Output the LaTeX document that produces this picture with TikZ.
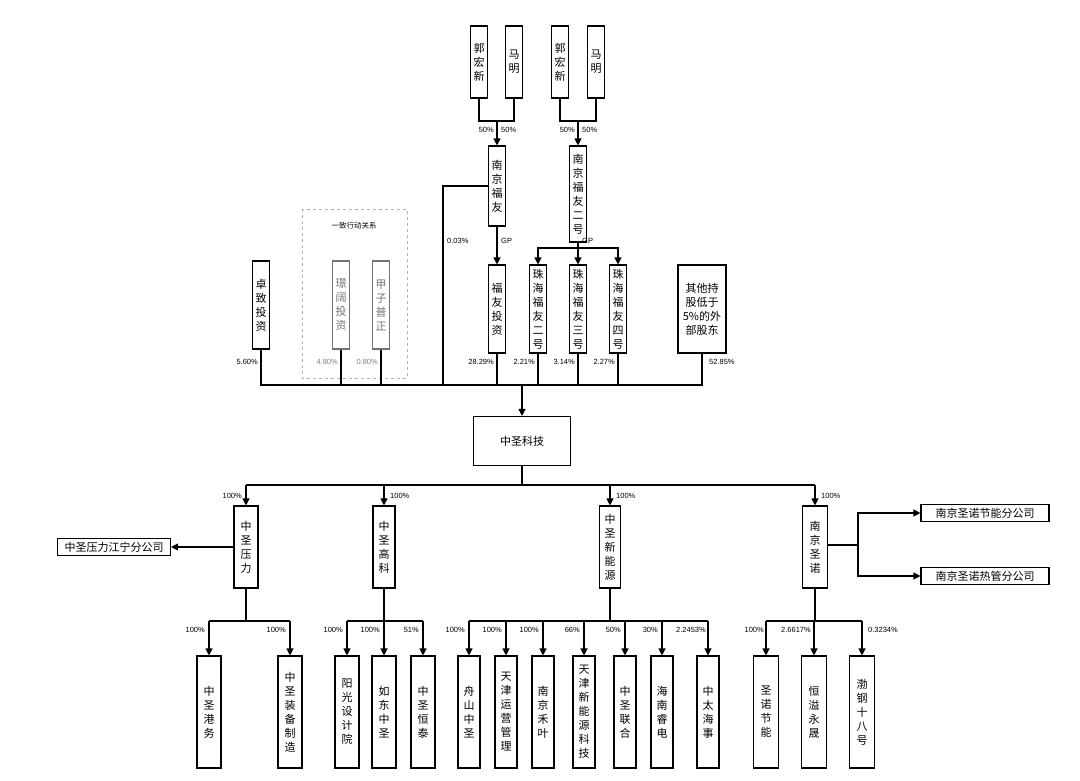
\documentclass[tikz,border=0pt]{standalone}
\usepackage{fontspec}
\setmainfont{Liberation Sans}
\newfontfamily\cjk{Noto Sans CJK SC}
\usetikzlibrary{arrows.meta}
\begin{document}
\begin{tikzpicture}[x=1pt,y=-1pt,
  box/.style={draw,line width=1.1pt,inner sep=0pt,align=center,font=\cjk\fontsize{11}{14}\selectfont},
  vb/.style={box,minimum width=17pt},
  gbox/.style={box,draw=black!55,text=black!55},
  hb/.style={box,minimum height=17pt,inner xsep=2pt},
  ln/.style={line width=1.1pt},
  arr/.style={line width=1.1pt,-{Triangle[width=7pt,length=7pt]}},
  pl/.style={font=\fontsize{7.5}{8}\selectfont,inner sep=1pt},
  gl/.style={pl,text=black!50}]
\useasboundingbox (0,0) rectangle (1080,780);
% top owners
\node[vb,minimum height=72] (gh1) at (479,62) {郭\\宏\\新};
\node[vb,minimum height=72] (mm1) at (514,62) {马\\明};
\node[vb,minimum height=72] (gh2) at (560,62) {郭\\宏\\新};
\node[vb,minimum height=72] (mm2) at (596,62) {马\\明};
\node[vb,minimum height=80] (nf) at (497,186) {南\\京\\福\\友};
\node[vb,minimum height=96] (nf2) at (578,194) {南\\京\\福\\友\\二\\号};
\coordinate (j1) at (497,121);
\coordinate (j2) at (578,121);
\draw[ln] (gh1.south) -- (gh1.south|-j1) -- (mm1.south|-j1) -- (mm1.south);
\draw[ln] (gh2.south) -- (gh2.south|-j2) -- (mm2.south|-j2) -- (mm2.south);
\draw[arr] (j1) -- (nf.north);
\draw[arr] (j2) -- (nf2.north);
\node[pl,anchor=east] (p1) at (495,130) {50\%};
\node[pl,anchor=west] (p2) at (500,130) {50\%};
\node[pl,anchor=east] (p3) at (576,130) {50\%};
\node[pl,anchor=west] (p4) at (581,130) {50\%};
% dashed group
\draw[dashed,draw=black!30,line width=0.9pt] (302,209) rectangle (407,378);
\node[font=\cjk\fontsize{7.5}{8}\selectfont] (gt) at (354,226) {一致行动关系};
% shareholders
\node[vb,minimum height=88] (fy) at (497,309) {福\\友\\投\\资};
\node[vb,minimum height=88] (zh2) at (538,309) {珠\\海\\福\\友\\二\\号};
\node[vb,minimum height=88] (zh3) at (578,309) {珠\\海\\福\\友\\三\\号};
\node[vb,minimum height=88] (zh4) at (618,309) {珠\\海\\福\\友\\四\\号};
\node[vb,minimum height=88] (zz) at (261,305) {卓\\致\\投\\资};
\node[vb,gbox,minimum height=88] (jk) at (341,305) {璟\\阔\\投\\资};
\node[vb,gbox,minimum height=88] (jz) at (381,305) {甲\\子\\普\\正};
\node[box,minimum width=48,minimum height=88] (qt) at (702,309) {其他持\\股低于\\5\%的外\\部股东};
\draw[arr] (nf.south) -- (fy.north);
\node[pl,anchor=west] (gp1) at (500,241) {GP};
\node[pl,anchor=west] (gp2) at (581,241) {GP};
\coordinate (b2) at (578,248);
\draw[ln] (nf2.south) -- (b2);
\draw[arr] (b2) -| (zh2.north);
\draw[arr] (b2) -| (zh4.north);
\draw[arr] (b2) -- (zh3.north);
\coordinate (bus) at (522,385);
\coordinate (bl) at (443,385);
\draw[ln] (zz.south) -- (zz.south|-bus) -- (qt.south|-bus) -- (qt.south);
\foreach \n in {jk,jz,fy,zh2,zh3,zh4} \draw[ln] (\n.south) -- (\n.south|-bus);
\draw[ln] (nf.west) -| (bl);
\node[pl,anchor=west] (p003) at (446,241) {0.03\%};
\node[pl,anchor=east] at (259,362) {5.60\%};
\node[gl,anchor=east] at (339,362) {4.80\%};
\node[gl,anchor=east] at (379,362) {0.80\%};
\node[pl,anchor=east] at (495,362) {28.29\%};
\node[pl,anchor=east] at (536,362) {2.21\%};
\node[pl,anchor=east] at (576,362) {3.14\%};
\node[pl,anchor=east] at (616,362) {2.27\%};
\node[pl,anchor=west] at (708,362) {52.85\%};
% main
\node[box,minimum width=97,minimum height=49] (main) at (522,441) {中圣科技};
\draw[arr] (bus) -- (main.north);
% level 2
\node[vb,minimum width=24,minimum height=82] (yl) at (246,547) {中\\圣\\压\\力};
\node[vb,minimum width=22,minimum height=82] (gk) at (384,547) {中\\圣\\高\\科};
\node[vb,minimum width=21,minimum height=82] (xny) at (610,547) {中\\圣\\新\\能\\源};
\node[vb,minimum width=25,minimum height=82] (sn) at (815,547) {南\\京\\圣\\诺};
\coordinate (b3) at (522,485);
\draw[ln] (main.south) -- (b3);
\draw[ln] (yl.north|-b3) -- (sn.north|-b3);
\foreach \n in {yl,gk,xny,sn} \draw[arr] (\n.north|-b3) -- (\n.north);
\node[pl,anchor=east] at (243,496) {100\%};
\node[pl,anchor=west] at (389,496) {100\%};
\node[pl,anchor=west] at (615,496) {100\%};
\node[pl,anchor=west] at (820,496) {100\%};
\node[hb,minimum width=113] (jn) at (114,547) {中圣压力江宁分公司};
\node[hb,minimum width=128] (jnn) at (985,513) {南京圣诺节能分公司};
\node[hb,minimum width=128] (rg) at (985,576) {南京圣诺热管分公司};
\draw[arr] (yl.west) -- (jn.east);
\coordinate (sb) at (858,545);
\draw[ln] (sn.east|-sb) -- (sb);
\draw[arr] (sb) |- (jnn.west);
\draw[arr] (sb) |- (rg.west);
% level 3
\tikzset{cb/.style={vb,minimum height=112}}
\node[cb,minimum width=24] (gw) at (209,712) {中\\圣\\港\\务};
\node[cb,minimum width=24] (zb) at (290,712) {中\\圣\\装\\备\\制\\造};
\node[cb,minimum width=24] (yg) at (347,712) {阳\\光\\设\\计\\院};
\node[cb,minimum width=24] (rd) at (384,712) {如\\东\\中\\圣};
\node[cb,minimum width=24] (ht) at (423,712) {中\\圣\\恒\\泰};
\node[cb,minimum width=22] (zs) at (469,712) {舟\\山\\中\\圣};
\node[cb,minimum width=22] (ty) at (506,712) {天\\津\\运\\营\\管\\理};
\node[cb,minimum width=22] (nj) at (543,712) {南\\京\\禾\\叶};
\node[cb,minimum width=22] (tx) at (584,712) {天\\津\\新\\能\\源\\科\\技};
\node[cb,minimum width=22] (zl) at (625,712) {中\\圣\\联\\合};
\node[cb,minimum width=22] (hn) at (662,712) {海\\南\\睿\\电};
\node[cb,minimum width=22] (zt) at (708,712) {中\\太\\海\\事};
\node[cb,minimum width=25] (sj) at (766,712) {圣\\诺\\节\\能};
\node[cb,minimum width=25] (hy) at (814,712) {恒\\溢\\永\\晟};
\node[cb,minimum width=25] (bg) at (862,712) {渤\\钢\\十\\八\\号};
\coordinate (c1) at (246,621);
\coordinate (c2) at (384,621);
\coordinate (c3) at (610,621);
\coordinate (c4) at (815,621);
\draw[ln] (yl.south) -- (c1);
\draw[ln] (xny.south) -- (c3);
\draw[ln] (sn.south) -- (c4);
\draw[ln] (gk.south) -- (c2);
\draw[ln] (gw.north|-c1) -- (zb.north|-c1);
\draw[ln] (yg.north|-c2) -- (ht.north|-c2);
\draw[ln] (zs.north|-c3) -- (zt.north|-c3);
\draw[ln] (sj.north|-c4) -- (bg.north|-c4);
\foreach \n in {gw,zb,yg,rd,ht,zs,ty,nj,tx,zl,hn,zt,sj,hy,bg} \draw[arr] (\n.north|-c1) -- (\n.north);
\node[pl,anchor=east] at (206,630) {100\%};
\node[pl,anchor=east] at (287,630) {100\%};
\node[pl,anchor=east] at (344,630) {100\%};
\node[pl,anchor=east] at (381,630) {100\%};
\node[pl,anchor=east] at (420,630) {51\%};
\node[pl,anchor=east] at (466,630) {100\%};
\node[pl,anchor=east] at (503,630) {100\%};
\node[pl,anchor=east] at (540,630) {100\%};
\node[pl,anchor=east] at (581,630) {66\%};
\node[pl,anchor=east] at (622,630) {50\%};
\node[pl,anchor=east] at (659,630) {30\%};
\node[pl,anchor=east] at (707,630) {2.2453\%};
\node[pl,anchor=east] at (765,630) {100\%};
\node[pl,anchor=east] at (812,630) {2.6617\%};
\node[pl,anchor=west] at (867,630) {0.3234\%};
\end{tikzpicture}
\end{document}
